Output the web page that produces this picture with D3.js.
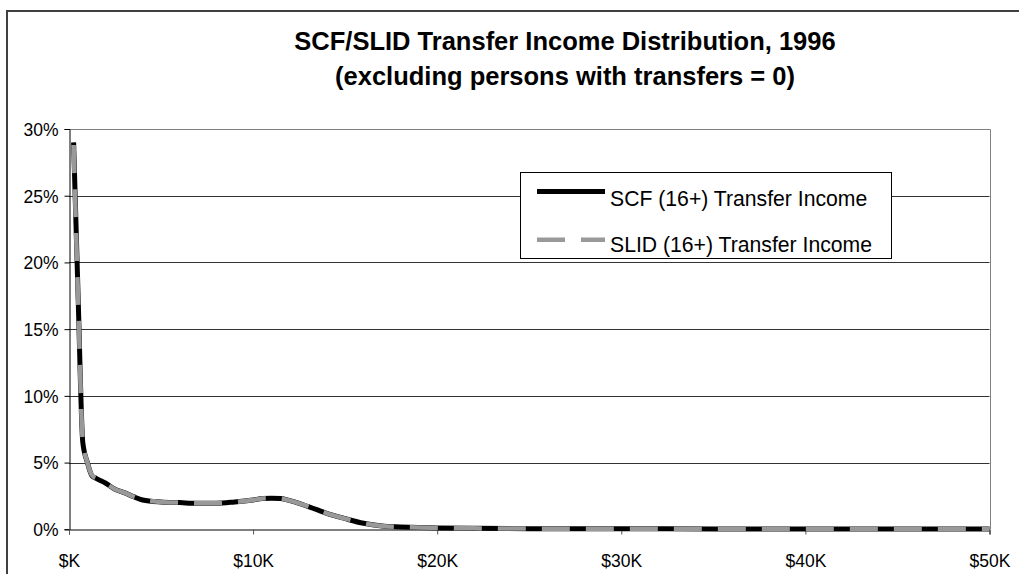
<!DOCTYPE html>
<meta charset="utf-8">
<title>SCF/SLID transfer income</title>
<style>
body {
  margin: 0px;
  background: #fff;
}
svg {
  font-family: "Liberation Sans", Arial, sans-serif;
}
.tick text {
  font-size: 17.5px;
  fill: #000;
}
</style>
<script src="https://d3js.org/d3.v7.min.js"></script>
<body>
<script>
// income in $K (bin points)
var incomeK = [0.25, 0.5, 0.75, 1, 1.25, 1.5, 2, 2.5, 3, 3.5, 4, 5, 6, 7, 8, 9, 10, 10.5, 11, 11.5, 12, 12.5, 13, 13.5, 14, 15, 16, 17, 18, 19, 20, 22, 25, 30, 35, 40, 45, 50];
// share of persons (%)
var scfPct = [29.0, 17.2, 6.5, 5.0, 4.0, 3.8, 3.45, 3.0, 2.75, 2.45, 2.2, 2.05, 2.0, 1.95, 1.95, 2.05, 2.2, 2.3, 2.33, 2.3, 2.15, 1.95, 1.7, 1.45, 1.2, 0.8, 0.45, 0.25, 0.18, 0.13, 0.1, 0.07, 0.05, 0.04, 0.03, 0.03, 0.02, 0.02];
var slidPct = [28.8, 17.0, 6.6, 5.0, 4.05, 3.8, 3.45, 3.0, 2.75, 2.45, 2.2, 2.05, 2.0, 1.95, 1.95, 2.05, 2.2, 2.3, 2.33, 2.3, 2.15, 1.95, 1.7, 1.45, 1.2, 0.8, 0.45, 0.25, 0.18, 0.13, 0.1, 0.07, 0.05, 0.04, 0.03, 0.03, 0.02, 0.02];
var yTicks = [0, 5, 10, 15, 20, 25, 30];
var xTicks = [0, 10, 20, 30, 40, 50];
var seriesNames = ["SCF (16+) Transfer Income", "SLID (16+) Transfer Income"];
var titleLines = ["SCF/SLID Transfer Income Distribution, 1996", "(excluding persons with transfers = 0)"];

var width = 1019, height = 574;
var plotLeft = 69, plotRight = 989.5, plotTop = 129, plotBottom = 529.3;

var svg = d3.select("body").append("svg")
    .attr("width", width)
    .attr("height", height);

// outer chart frame (runs off the page at right/bottom)
svg.append("rect")
    .attr("x", 7).attr("y", 11)
    .attr("width", 1100).attr("height", 700)
    .attr("fill", "#fff")
    .attr("stroke", "#404040")
    .attr("stroke-width", 2);

var x = d3.scaleLinear().domain([0, 50]).range([plotLeft, plotRight]);
var y = d3.scaleLinear().domain([0, 30]).range([plotBottom, plotTop]);

// gridlines
svg.append("g")
  .selectAll("line")
    .data(yTicks.filter(function(d) { return d > 0 && d < 30; }))
  .enter().append("line")
    .attr("x1", plotLeft).attr("x2", plotRight)
    .attr("y1", function(d) { return Math.round(y(d)) + 0.5; })
    .attr("y2", function(d) { return Math.round(y(d)) + 0.5; })
    .attr("stroke", "#333");

// plot area border top/right (gray)
svg.append("path")
    .attr("d", "M" + plotLeft + "," + (Math.round(plotTop) + 0.5) + "H" + (Math.round(plotRight) + 0.5) + "V" + plotBottom)
    .attr("fill", "none")
    .attr("stroke", "#808080");

// axes
var yAxis = d3.axisLeft(y).tickValues(yTicks).tickSize(5).tickPadding(6)
    .tickFormat(function(d) { return d + "%"; });
var xAxis = d3.axisBottom(x).tickValues(xTicks).tickSize(5).tickPadding(20)
    .tickFormat(function(d) { return "$" + (d === 0 ? "" : d) + "K"; });

var gy = svg.append("g")
    .attr("transform", "translate(" + (Math.round(plotLeft) + 0.5) + ",0)")
    .call(yAxis);
gy.select(".domain").attr("stroke", "#000");
gy.selectAll(".tick line").attr("stroke", "#000");
gy.selectAll(".tick text").attr("dy", "0.36em");

var gx = svg.append("g")
    .attr("transform", "translate(0," + (Math.round(plotBottom) + 0.5) + ")")
    .call(xAxis);
gx.select(".domain").attr("stroke", "#000");
gx.selectAll(".tick line").attr("stroke", "#555");

// lines
var line = d3.line()
    .x(function(d) { return x(d[0]); })
    .y(function(d) { return y(d[1]); })
    .curve(d3.curveMonotoneX);

svg.append("path")
    .datum(d3.zip(incomeK, scfPct))
    .attr("fill", "none")
    .attr("stroke", "#000")
    .attr("stroke-width", 5)
    .attr("d", line);

svg.append("path")
    .datum(d3.zip(incomeK, slidPct))
    .attr("fill", "none")
    .attr("stroke", "#999")
    .attr("stroke-width", 4.5)
    .attr("stroke-dasharray", "28,16")
    .attr("d", line);

// legend
var legend = svg.append("g");
legend.append("rect")
    .attr("x", 520.5).attr("y", 172.5)
    .attr("width", 371).attr("height", 86)
    .attr("fill", "#fff")
    .attr("stroke", "#000");
var legY = [191.5, 239.7];
var legBase = [206, 251.7];
legend.selectAll("line")
    .data(seriesNames)
  .enter().append("line")
    .attr("x1", 537).attr("x2", 605)
    .attr("y1", function(d, i) { return legY[i]; })
    .attr("y2", function(d, i) { return legY[i]; })
    .attr("stroke", function(d, i) { return i == 0 ? "#000" : "#999"; })
    .attr("stroke-width", function(d, i) { return i == 0 ? 5 : 4.5; })
    .attr("stroke-dasharray", function(d, i) { return i == 0 ? null : "28,16"; });
legend.selectAll("text")
    .data(seriesNames)
  .enter().append("text")
    .attr("x", 610)
    .attr("y", function(d, i) { return legBase[i]; })
    .style("font-size", "21.2px")
    .text(function(d) { return d; });

// title
svg.append("g").selectAll("text")
    .data(titleLines)
  .enter().append("text")
    .attr("x", 565)
    .attr("y", function(d, i) { return i == 0 ? 50 : 85; })
    .attr("text-anchor", "middle")
    .style("font-size", "25.5px")
    .style("font-weight", "bold")
    .text(function(d) { return d; });
</script>
</body>
